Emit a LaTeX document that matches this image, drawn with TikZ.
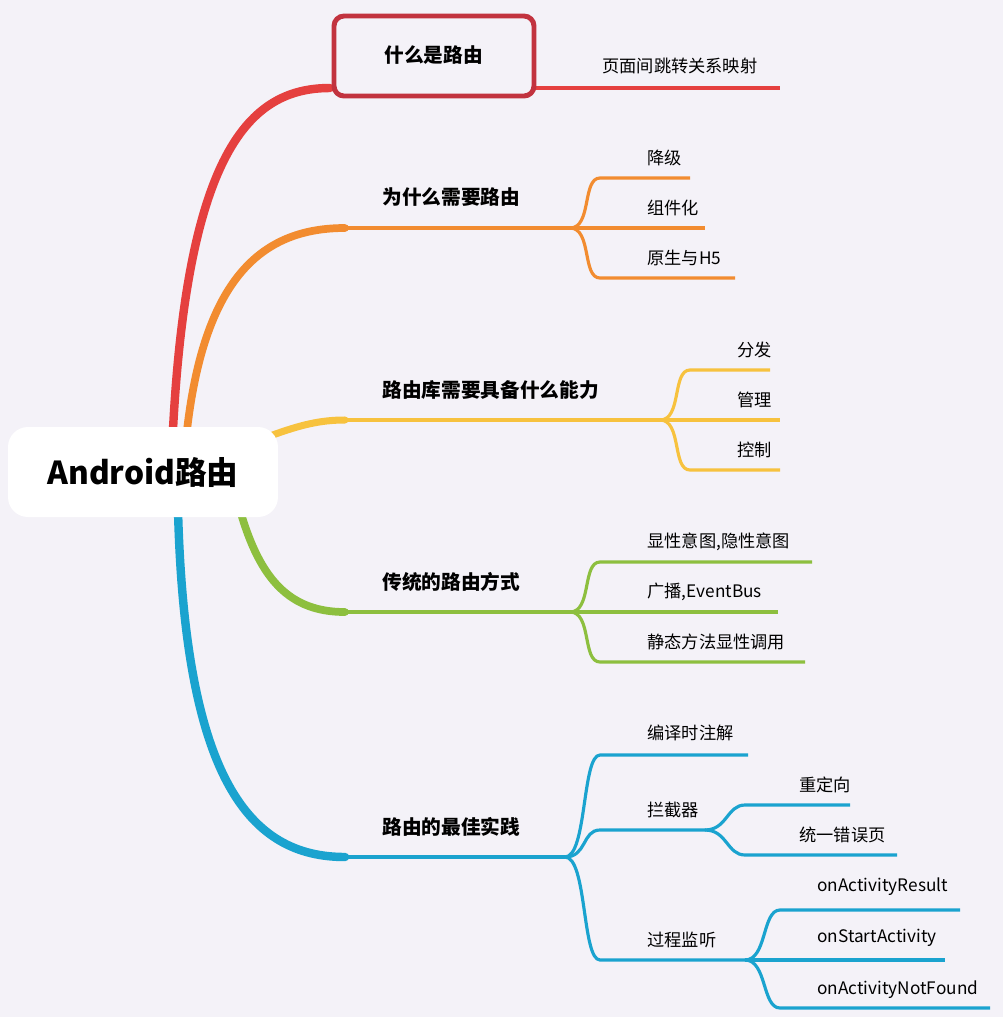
\documentclass[tikz,border=0pt]{standalone}
\usepackage{fontspec}
\setmainfont{Noto Sans CJK SC}
\begin{document}
\begin{tikzpicture}[x=0.1mm,y=-0.1mm,
  l1/.style={anchor=west,font=\fontsize{5.6pt}{6pt}\selectfont\bfseries},
  l2/.style={anchor=west,font=\fontsize{4.9pt}{6pt}\selectfont},
  br/.style={line width=1.6pt,line cap=round},
  sb/.style={line width=0.6pt}]
\definecolor{bg}{HTML}{F4F2F8}
\definecolor{cr}{HTML}{E5403F}
\definecolor{co}{HTML}{F28C30}
\definecolor{cy}{HTML}{F7C23E}
\definecolor{cg}{HTML}{8DBF3F}
\definecolor{cb}{HTML}{1AA3CF}
\definecolor{boxr}{HTML}{C2333F}
\fill[bg] (0,0) rectangle (1003,1017);
\useasboundingbox (0,0) rectangle (1003,1017);
% branches
\coordinate (r1) at (330,88); \coordinate (r1e) at (780,88);
\draw[br,cr,line width=2.4pt] (172,450) .. controls (185,150) and (250,88) .. (r1);
\draw[cr,sb,line width=0.9pt] (r1) -- (r1e);
\coordinate (o1) at (345,228); \coordinate (o1e) at (570,228);
\draw[br,co,line width=2.2pt] (185,450) .. controls (200,280) and (260,228) .. (o1);
\draw[co,line width=0.9pt] (o1) -- (o1e);
\coordinate (y1) at (345,420); \coordinate (y1e) at (660,420);
\draw[br,cy,line width=2pt] (270,436) .. controls (300,425) and (320,420) .. (y1);
\draw[cy,line width=0.9pt] (y1) -- (y1e);
\coordinate (g1) at (345,612); \coordinate (g1e) at (570,612);
\draw[br,cg,line width=2.2pt] (240,510) .. controls (260,580) and (290,612) .. (g1);
\draw[cg,line width=0.9pt] (g1) -- (g1e);
\coordinate (b1) at (345,857); \coordinate (b1e) at (565,857);
\draw[br,cb,line width=2.4pt] (178,510) .. controls (185,780) and (250,857) .. (b1);
\draw[cb,line width=0.9pt] (b1) -- (b1e);
% root
\node[fill=white,rounded corners=2mm,minimum width=27mm,minimum height=9mm,
  font=\fontsize{9pt}{10pt}\selectfont\bfseries] (root) at (143,472) {Android路由};
% level1 labels
\node[draw=boxr,fill=bg,line width=1.4pt,rounded corners=1mm,minimum width=20mm,minimum height=8mm] (box) at (434,56) {};
\node[l1] (t1) at (372,55) {什么是路由};
\node[l1] (t2) at (370,197) {为什么需要路由};
\node[l1] (t3) at (370,390) {路由库需要具备什么能力};
\node[l1] (t4) at (370,582) {传统的路由方式};
\node[l1] (t5) at (370,827) {路由的最佳实践};
\node[l2] (s11) at (590,66) {页面间跳转关系映射};
\foreach \c/\sx/\sy/\ex/\ey/\ee in {co/570/228/600/178/690, co/570/228/600/228/705, co/570/228/600/278/735,
  cy/660/420/690/370/770, cy/660/420/690/420/780, cy/660/420/690/470/780,
  cg/570/612/600/562/812, cg/570/612/600/612/778, cg/570/612/600/662/805,
  cb/565/857/600/755/748, cb/565/857/600/830/705, cb/565/857/600/960/745,
  cb/705/830/745/805/850, cb/705/830/745/855/897,
  cb/745/960/780/910/960, cb/745/960/780/960/945, cb/745/960/780/1008/990}
{\draw[\c,line width=0.9pt] (\sx,\sy) .. controls (\sx+22,\sy) and (\ex-18,\ey) .. (\ex,\ey) -- (\ee,\ey);}
\node[l2] (a1) at (635,158) {降级};
\node[l2] (a2) at (635,208) {组件化};
\node[l2] (a3) at (635,258) {原生与H5};
\node[l2] (b1n) at (725,350) {分发};
\node[l2] (b2n) at (725,400) {管理};
\node[l2] (b3n) at (725,450) {控制};
\node[l2] (c1) at (635,542) {显性意图,隐性意图};
\node[l2] (c2) at (635,592) {广播,EventBus};
\node[l2] (c3) at (635,642) {静态方法显性调用};
\node[l2] (d1) at (635,733) {编译时注解};
\node[l2] (d2) at (635,810) {拦截器};
\node[l2] (d3) at (635,940) {过程监听};
\node[l2] (e1) at (787,785) {重定向};
\node[l2] (e2) at (787,835) {统一错误页};
\node[l2] (f1) at (805,887) {onActivityResult};
\node[l2] (f2) at (805,938) {onStartActivity};
\node[l2] (f3) at (805,990) {onActivityNotFound};
\end{tikzpicture}
\end{document}
